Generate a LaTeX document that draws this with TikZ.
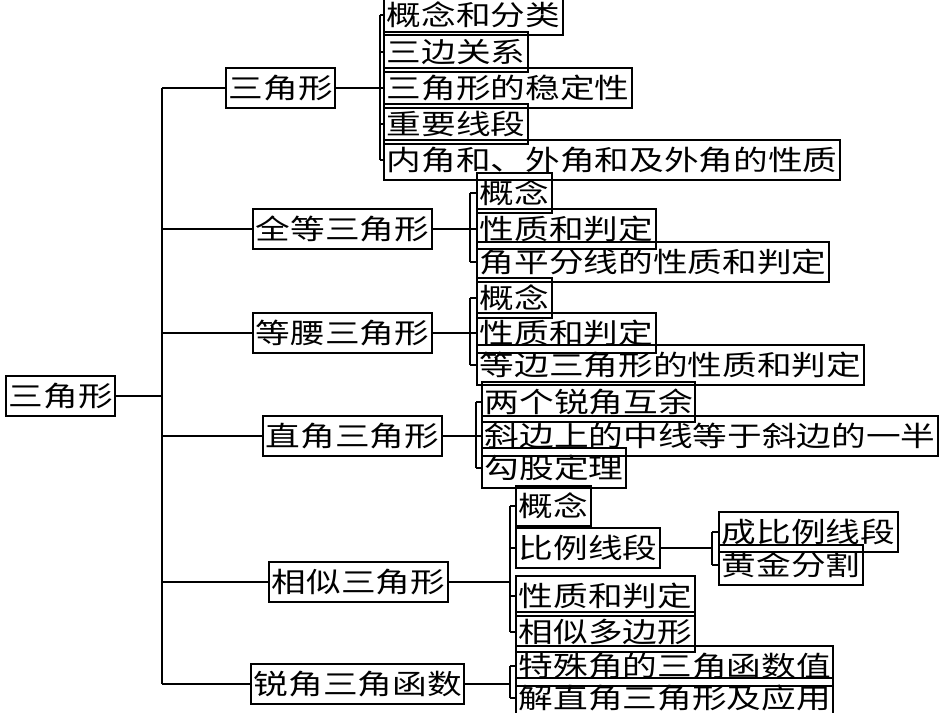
\documentclass[tikz,border=0pt]{standalone}
\usepackage{fontspec}
\setmainfont{Noto Sans CJK SC}
\usepackage{graphicx}
\newcommand{\sq}[1]{\scalebox{1}[0.8]{#1}}
\begin{document}
\begin{tikzpicture}[x=0.75pt,y=-0.75pt,
  bx/.style={draw,line width=1.5pt,anchor=west,inner xsep=2pt,inner ysep=0pt,minimum height=30,font=\fontsize{26pt}{26pt}\selectfont},
  ln/.style={line width=1.5pt}]
\useasboundingbox (0,0) rectangle (950,713);
\newcommand{\B}[4]{\node[bx] (#1) at (#2,#3) {\sq{#4}};}
\B{r}{5}{396}{三角形}
\B{a}{225}{88}{三角形}
\B{b}{252}{229}{全等三角形}
\B{c}{252}{333}{等腰三角形}
\B{d}{262}{436}{直角三角形}
\B{e}{268}{582}{相似三角形}
\B{f}{250}{684}{锐角三角函数}
\B{a1}{383}{15}{概念和分类}
\B{a2}{383}{52}{三边关系}
\B{a3}{383}{88}{三角形的稳定性}
\B{a4}{383}{124}{重要线段}
\B{a5}{383}{160}{内角和、外角和及外角的性质}
\B{b1}{476}{193}{概念}
\B{b2}{476}{229}{性质和判定}
\B{b3}{476}{262}{角平分线的性质和判定}
\B{c1}{476}{298}{概念}
\B{c2}{476}{333}{性质和判定}
\B{c3}{476}{365}{等边三角形的性质和判定}
\B{d1}{481}{402}{两个锐角互余}
\B{d2}{481}{436}{斜边上的中线等于斜边的一半}
\B{d3}{481}{468}{勾股定理}
\B{e1}{515}{506}{概念}
\B{e2}{515}{548}{比例线段}
\B{e3}{515}{596}{性质和判定}
\B{e4}{515}{632}{相似多边形}
\B{g1}{718}{532}{成比例线段}
\B{g2}{718}{565}{黄金分割}
\B{f1}{515}{666}{特殊角的三角函数值}
\B{f2}{515}{698}{解直角三角形及应用}
% root to main trunk
\draw[ln] (r.east) -- (r.east -| 162,0);
\draw[ln] (a.west -| 162,0) -- (f.west -| 162,0);
\foreach \n in {a,b,c,d,e,f} \draw[ln] (\n.west -| 162,0) -- (\n.west);
% groups
\newcommand{\G}[4]{%
  \draw[ln] (#1.east) -- (#1.east -| #2,0);
  \draw[ln] (#3.west -| #2,0) -- (#4.west -| #2,0);}
\G{a}{380}{a1}{a5}
\foreach \n in {a1,a2,a3,a4,a5} \draw[ln] (\n.west -| 380,0) -- (\n.west);
\G{b}{470}{b1}{b3}
\foreach \n in {b1,b2,b3} \draw[ln] (\n.west -| 470,0) -- (\n.west);
\G{c}{470}{c1}{c3}
\foreach \n in {c1,c2,c3} \draw[ln] (\n.west -| 470,0) -- (\n.west);
\G{d}{476}{d1}{d3}
\foreach \n in {d1,d2,d3} \draw[ln] (\n.west -| 476,0) -- (\n.west);
\G{e}{510}{e1}{e4}
\foreach \n in {e1,e2,e3,e4} \draw[ln] (\n.west -| 510,0) -- (\n.west);
\G{f}{510}{f1}{f2}
\foreach \n in {f1,f2} \draw[ln] (\n.west -| 510,0) -- (\n.west);
\G{e2}{712}{g1}{g2}
\foreach \n in {g1,g2} \draw[ln] (\n.west -| 712,0) -- (\n.west);
\end{tikzpicture}
\end{document}
